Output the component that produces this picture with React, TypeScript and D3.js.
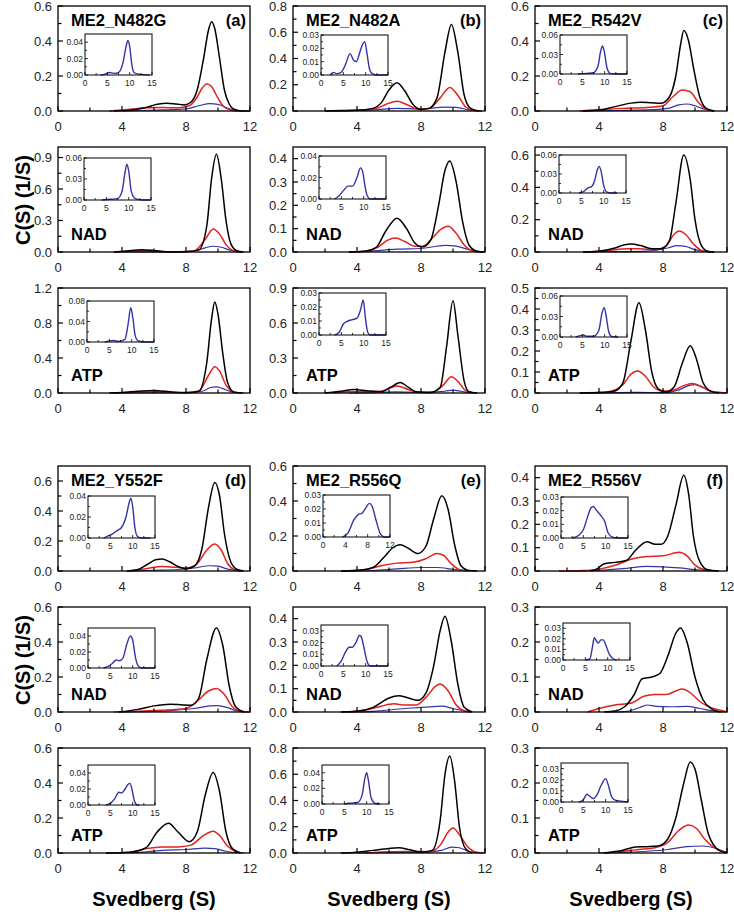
import React from "react";
import * as d3 from "d3";

type Pt = [number, number];

// ---------- DATA (Svedberg S, c(S)) ----------
// (a) ME2_N482G
const n482gApoBlack: Pt[] = [[3.5,0],[4.5,0.005],[5.5,0.02],[6.2,0.038],[6.8,0.045],[7.4,0.04],[7.9,0.035],[8.3,0.05],[8.7,0.12],[9.1,0.3],[9.4,0.46],[9.6,0.51],[9.8,0.47],[10.1,0.3],[10.4,0.12],[10.7,0.04],[11,0.01],[11.5,0],[12,0]];
const n482gApoRed: Pt[] = [[3.2,0],[3.8,0.005],[4.5,0.01],[5.5,0.018],[6.5,0.02],[7.5,0.018],[8.2,0.03],[8.7,0.08],[9.0,0.13],[9.3,0.155],[9.6,0.14],[9.9,0.09],[10.3,0.03],[10.8,0.005],[11.2,0]];
const n482gApoBlue: Pt[] = [[4,0],[5,0.003],[6.5,0.006],[8,0.012],[8.8,0.03],[9.5,0.042],[10,0.038],[10.5,0.02],[11,0.005],[11.5,0]];
const n482gApoInset: Pt[] = [[3.5,0],[4.5,0.001],[5.5,0.003],[6.5,0.002],[7.5,0.003],[8.5,0.015],[9.2,0.035],[9.6,0.042],[10,0.035],[10.5,0.012],[11,0.003],[12,0.001],[14.5,0]];
const n482gNadBlack: Pt[] = [[3.5,0],[4.3,0.01],[5.2,0.022],[6,0.015],[6.8,0.003],[8,0.002],[8.8,0.02],[9.3,0.25],[9.6,0.7],[9.9,0.93],[10.2,0.7],[10.5,0.3],[10.8,0.08],[11.2,0.01],[11.6,0]];
const n482gNadRed: Pt[] = [[3.5,0],[4.5,0.008],[5.2,0.012],[6,0.006],[7,0.001],[8.5,0.01],[9.2,0.12],[9.7,0.22],[10.1,0.17],[10.5,0.07],[11,0.01],[11.5,0]];
const n482gNadBlue: Pt[] = [[4,0],[5,0.002],[7,0.002],[8.5,0.01],[9.2,0.04],[9.7,0.055],[10.2,0.045],[10.8,0.015],[11.5,0]];
const n482gNadInset: Pt[] = [[4,0],[6,0.001],[7.5,0.002],[8.5,0.012],[9.2,0.04],[9.6,0.051],[10,0.042],[10.6,0.012],[11.5,0.002],[13,0],[15,0]];
const n482gAtpBlack: Pt[] = [[3.2,0],[4,0.005],[5,0.02],[6,0.03],[7,0.015],[8,0.002],[8.8,0.02],[9.3,0.35],[9.6,0.85],[9.8,1.04],[10,0.9],[10.3,0.45],[10.6,0.12],[11,0.01],[11.5,0]];
const n482gAtpRed: Pt[] = [[3.5,0],[5,0.01],[6.2,0.015],[7.5,0.005],[8.8,0.02],[9.4,0.2],[9.8,0.3],[10.1,0.25],[10.5,0.09],[11,0.01],[11.6,0]];
const n482gAtpBlue: Pt[] = [[4,0],[6,0.003],[8,0.003],[9,0.02],[9.5,0.06],[9.9,0.07],[10.3,0.05],[10.8,0.015],[11.5,0]];
const n482gAtpInset: Pt[] = [[4,0],[5,0.002],[6,0.003],[7,0.001],[8.5,0.005],[9.2,0.035],[9.8,0.067],[10.3,0.045],[10.8,0.012],[11.5,0.002],[13,0],[15,0]];

// (b) ME2_N482A
const n482aApoBlack: Pt[] = [[2,0],[3,0.003],[4,0.005],[5,0.02],[5.5,0.06],[6,0.16],[6.5,0.215],[7,0.15],[7.5,0.05],[8,0.012],[8.5,0.02],[9,0.1],[9.5,0.45],[9.9,0.66],[10.3,0.45],[10.7,0.12],[11.1,0.02],[11.6,0]];
const n482aApoRed: Pt[] = [[2.5,0],[4,0.005],[5.2,0.02],[5.8,0.05],[6.5,0.075],[7.1,0.05],[7.8,0.015],[8.5,0.02],[9.2,0.1],[9.8,0.18],[10.3,0.12],[10.8,0.03],[11.3,0.003],[11.8,0]];
const n482aApoBlue: Pt[] = [[2,0],[3,0.003],[5,0.008],[6.5,0.02],[8,0.015],[9.5,0.03],[10.2,0.028],[11,0.008],[11.8,0]];
const n482aApoInset: Pt[] = [[2,0],[2.8,0.002],[3.5,0.001],[4.5,0.002],[5.5,0.008],[6.5,0.016],[7.3,0.011],[7.9,0.01],[8.6,0.016],[9.3,0.023],[9.8,0.025],[10.3,0.016],[10.9,0.004],[11.5,0.001],[12.5,0],[15,0]];
const n482aNadBlack: Pt[] = [[3.5,0],[4.5,0.003],[5.2,0.02],[5.8,0.09],[6.5,0.145],[7.1,0.1],[7.6,0.04],[8.1,0.022],[8.6,0.05],[9.1,0.2],[9.5,0.35],[9.8,0.39],[10.2,0.3],[10.6,0.13],[11,0.03],[11.5,0.003],[12,0]];
const n482aNadRed: Pt[] = [[3.5,0],[4.5,0.003],[5.3,0.02],[5.9,0.05],[6.4,0.06],[7,0.045],[7.6,0.025],[8.1,0.025],[8.7,0.06],[9.3,0.1],[9.7,0.11],[10.2,0.08],[10.7,0.03],[11.2,0.005],[11.8,0]];
const n482aNadBlue: Pt[] = [[3.5,0],[5,0.005],[6.5,0.012],[8,0.015],[9.5,0.028],[10.2,0.025],[11,0.01],[11.8,0]];
const n482aNadInset: Pt[] = [[3.5,0],[4.5,0.003],[5.5,0.008],[6.5,0.012],[7.5,0.012],[8.5,0.02],[9.3,0.029],[9.8,0.025],[10.3,0.012],[10.8,0.003],[11.5,0],[15,0]];
const n482aAtpBlack: Pt[] = [[2,0],[3,0.015],[3.8,0.03],[4.6,0.02],[5.5,0.01],[6.1,0.05],[6.7,0.09],[7.2,0.05],[7.7,0.01],[8.5,0.003],[9.2,0.05],[9.6,0.4],[10,0.79],[10.3,0.5],[10.7,0.1],[11,0.01],[11.5,0]];
const n482aAtpRed: Pt[] = [[2.5,0],[3.5,0.01],[4.5,0.01],[5.5,0.015],[6.5,0.06],[7.2,0.03],[7.8,0.005],[8.8,0.01],[9.4,0.07],[9.9,0.14],[10.3,0.1],[10.8,0.02],[11.3,0]];
const n482aAtpBlue: Pt[] = [[3.5,0],[5,0.003],[6.5,0.01],[8,0.005],[9.5,0.015],[10,0.025],[10.5,0.015],[11,0.003],[11.5,0]];
const n482aAtpInset: Pt[] = [[3.5,0],[4.5,0.002],[5.5,0.008],[6.5,0.01],[7.5,0.011],[8.5,0.012],[9.3,0.018],[9.9,0.025],[10.4,0.012],[10.9,0.002],[11.5,0],[15,0]];

// (c) ME2_R542V
const r542vApoBlack: Pt[] = [[3,0],[4,0.005],[5,0.025],[6,0.045],[6.6,0.05],[7.3,0.047],[7.9,0.045],[8.4,0.08],[8.8,0.2],[9.1,0.38],[9.3,0.46],[9.6,0.4],[9.9,0.25],[10.3,0.08],[10.7,0.015],[11.2,0]];
const r542vApoRed: Pt[] = [[2.8,0],[4,0.008],[5.5,0.015],[7,0.02],[8,0.03],[8.6,0.08],[9.2,0.12],[9.7,0.11],[10.2,0.05],[10.7,0.01],[11.2,0]];
const r542vApoBlue: Pt[] = [[3,0],[5,0.003],[7,0.006],[8.3,0.015],[9,0.035],[9.5,0.04],[10,0.03],[10.6,0.01],[11.2,0]];
const r542vApoInset: Pt[] = [[4,0],[6,0.001],[7.5,0.002],[8.5,0.012],[9.1,0.035],[9.5,0.043],[9.9,0.035],[10.5,0.01],[11.2,0.001],[12.5,0],[15,0]];
const r542vNadBlack: Pt[] = [[3,0],[4,0.005],[5,0.025],[5.6,0.045],[6,0.05],[6.6,0.04],[7.3,0.02],[7.9,0.02],[8.4,0.07],[8.8,0.3],[9.3,0.6],[9.7,0.45],[10,0.2],[10.4,0.04],[10.8,0.005],[11.2,0]];
const r542vNadRed: Pt[] = [[3,0],[4.5,0.008],[5.8,0.02],[6.5,0.02],[7.5,0.015],[8.2,0.04],[8.7,0.11],[9,0.13],[9.4,0.11],[9.9,0.05],[10.4,0.01],[11,0]];
const r542vNadBlue: Pt[] = [[3.5,0],[5,0.002],[7,0.006],[8.3,0.025],[8.9,0.04],[9.4,0.035],[10,0.015],[10.6,0.003],[11.2,0]];
const r542vNadInset: Pt[] = [[4.5,0],[5.5,0.002],[6.5,0.008],[7.3,0.01],[8,0.02],[8.6,0.037],[9,0.042],[9.4,0.035],[10,0.012],[10.6,0.002],[11.5,0],[13,0]];
const r542vAtpBlack: Pt[] = [[2.8,0],[4,0.002],[5,0.01],[5.5,0.05],[6,0.25],[6.5,0.43],[6.9,0.3],[7.3,0.1],[7.7,0.02],[8.2,0.005],[8.7,0.03],[9.2,0.14],[9.7,0.225],[10.1,0.16],[10.5,0.05],[11,0.008],[11.5,0]];
const r542vAtpRed: Pt[] = [[2.8,0],[4.5,0.005],[5.5,0.04],[6,0.09],[6.4,0.105],[6.9,0.08],[7.4,0.03],[8,0.008],[8.7,0.015],[9.3,0.035],[9.8,0.045],[10.3,0.035],[10.9,0.01],[11.5,0.002],[12,0]];
const r542vAtpBlue: Pt[] = [[3.5,0],[5,0.002],[6.3,0.003],[8,0.002],[9,0.015],[9.6,0.035],[10,0.04],[10.5,0.025],[11.2,0.005],[12,0]];
const r542vAtpInset: Pt[] = [[3.5,0],[4.5,0.002],[5.2,0.003],[6,0.001],[7.5,0.001],[8.7,0.01],[9.4,0.035],[9.9,0.043],[10.3,0.032],[10.9,0.008],[11.5,0.001],[12.5,0],[13,0]];

// (d) ME2_Y552F
const y552fApoBlack: Pt[] = [[4.3,0],[5,0.01],[5.6,0.045],[6.1,0.075],[6.5,0.08],[7,0.06],[7.5,0.03],[8,0.015],[8.5,0.03],[9,0.15],[9.4,0.42],[9.8,0.59],[10.1,0.5],[10.4,0.25],[10.8,0.06],[11.2,0.01],[11.6,0]];
const y552fApoRed: Pt[] = [[4.5,0],[5.5,0.015],[6.5,0.03],[7.3,0.025],[8,0.02],[8.7,0.05],[9.3,0.14],[9.8,0.18],[10.2,0.14],[10.6,0.05],[11,0.01],[11.5,0]];
const y552fApoBlue: Pt[] = [[4.5,0],[6,0.005],[7.5,0.01],[8.5,0.02],[9.5,0.035],[10,0.032],[10.6,0.012],[11.2,0]];
const y552fApoInset: Pt[] = [[3.5,0],[4.5,0.002],[5.5,0.004],[6.5,0.007],[7.5,0.01],[8.5,0.02],[9.3,0.035],[9.6,0.038],[10,0.03],[10.5,0.01],[11,0.002],[12,0],[14,0]];
const y552fNadBlack: Pt[] = [[3.8,0],[5,0.015],[6,0.035],[7,0.045],[7.8,0.04],[8.3,0.038],[8.8,0.08],[9.3,0.3],[9.9,0.48],[10.3,0.38],[10.7,0.15],[11.1,0.03],[11.6,0]];
const y552fNadRed: Pt[] = [[4,0],[5,0.005],[6.5,0.01],[8,0.02],[8.8,0.07],[9.4,0.12],[9.9,0.135],[10.4,0.1],[10.9,0.03],[11.5,0.002],[12,0]];
const y552fNadBlue: Pt[] = [[3.5,0],[5,0.002],[7,0.008],[8.5,0.02],[9.5,0.035],[10,0.037],[10.6,0.025],[11.2,0.006],[12,0]];
const y552fNadInset: Pt[] = [[3.5,0],[4.5,0.002],[5.5,0.006],[6.3,0.01],[7,0.009],[7.8,0.012],[8.7,0.03],[9.5,0.04],[10,0.035],[10.6,0.014],[11.2,0.003],[12,0],[15,0]];
const y552fAtpBlack: Pt[] = [[3,0],[4.5,0.005],[5.5,0.03],[6.2,0.12],[6.9,0.17],[7.5,0.12],[8.2,0.065],[8.7,0.12],[9.2,0.33],[9.7,0.46],[10.1,0.35],[10.5,0.12],[10.9,0.025],[11.4,0]];
const y552fAtpRed: Pt[] = [[3,0],[4.5,0.005],[5.5,0.025],[6.5,0.035],[7.5,0.035],[8.3,0.045],[9.1,0.1],[9.7,0.125],[10.1,0.1],[10.6,0.04],[11.1,0.008],[11.6,0]];
const y552fAtpBlue: Pt[] = [[3.5,0],[5,0.003],[6.5,0.015],[8,0.02],[9.2,0.028],[9.8,0.025],[10.5,0.01],[11.2,0]];
const y552fAtpInset: Pt[] = [[4,0],[5,0.002],[6,0.008],[6.9,0.016],[7.5,0.015],[8.3,0.02],[9,0.026],[9.4,0.027],[9.9,0.018],[10.4,0.005],[11,0],[11.5,0]];

// (e) ME2_R556Q
const r556qApoBlack: Pt[] = [[3,0],[4,0.003],[5,0.02],[5.7,0.08],[6.2,0.13],[6.7,0.15],[7.2,0.13],[7.8,0.1],[8.3,0.14],[8.8,0.3],[9.3,0.43],[9.7,0.35],[10.1,0.15],[10.5,0.03],[11,0.003],[11.5,0]];
const r556qApoRed: Pt[] = [[3,0],[4.5,0.008],[5.5,0.03],[6.5,0.045],[7.5,0.05],[8.3,0.07],[9,0.1],[9.4,0.09],[9.9,0.04],[10.4,0.008],[11,0]];
const r556qApoBlue: Pt[] = [[3.5,0],[5,0.003],[6.5,0.012],[8,0.02],[9,0.02],[10,0.01],[11,0]];
const r556qApoInset: Pt[] = [[3.5,0],[4.5,0.003],[5.5,0.012],[6.3,0.016],[7,0.017],[7.7,0.021],[8.3,0.024],[8.8,0.022],[9.5,0.012],[10.2,0.003],[11,0],[12,0]];
const r556qNadBlack: Pt[] = [[3,0],[4,0.003],[5,0.02],[6,0.06],[6.6,0.07],[7.2,0.06],[7.8,0.05],[8.3,0.08],[8.8,0.2],[9.2,0.35],[9.5,0.41],[9.9,0.3],[10.3,0.12],[10.7,0.02],[11.2,0]];
const r556qNadRed: Pt[] = [[3,0],[4.5,0.008],[5.5,0.025],[6.3,0.035],[7,0.03],[7.7,0.03],[8.4,0.07],[8.9,0.11],[9.2,0.12],[9.7,0.09],[10.2,0.03],[10.7,0.005],[11.2,0]];
const r556qNadBlue: Pt[] = [[3.5,0],[5,0.003],[7,0.015],[8.5,0.022],[9.3,0.025],[10,0.015],[11,0]];
const r556qNadInset: Pt[] = [[3.5,0],[4.5,0.004],[5.5,0.012],[6.3,0.016],[7,0.016],[7.8,0.02],[8.6,0.026],[9,0.025],[9.6,0.016],[10.3,0.004],[11,0],[15,0]];
const r556qAtpBlack: Pt[] = [[3,0],[4,0.005],[5,0.02],[6,0.035],[6.6,0.04],[7.3,0.025],[8,0.008],[8.7,0.02],[9.2,0.25],[9.5,0.6],[9.8,0.74],[10.1,0.55],[10.4,0.2],[10.8,0.03],[11.2,0]];
const r556qAtpRed: Pt[] = [[4.5,0],[5.5,0.008],[7,0.012],[8.5,0.01],[9.2,0.06],[9.7,0.16],[10,0.19],[10.4,0.14],[10.9,0.05],[11.5,0.005],[12,0]];
const r556qAtpBlue: Pt[] = [[4,0],[6,0.003],[8,0.005],[9.3,0.02],[9.9,0.045],[10.4,0.04],[11,0.01],[11.6,0]];
const r556qAtpInset: Pt[] = [[5,0],[6,0.001],[8,0.002],[9,0.012],[9.6,0.033],[10,0.04],[10.4,0.03],[11,0.008],[11.8,0.001],[12.5,0],[13,0]];

// (f) ME2_R556V
const r556vApoBlack: Pt[] = [[3.5,0],[3.9,0.01],[4.3,0.03],[5,0.037],[5.7,0.045],[6.3,0.09],[7,0.125],[7.5,0.115],[7.9,0.115],[8.3,0.15],[8.8,0.28],[9.3,0.41],[9.6,0.33],[9.9,0.15],[10.3,0.04],[10.8,0.005],[11.5,0]];
const r556vApoRed: Pt[] = [[1.5,0],[3,0.002],[4,0.008],[5,0.025],[6,0.05],[7,0.062],[8,0.065],[9,0.08],[9.5,0.065],[10,0.025],[10.6,0.005],[11.3,0]];
const r556vApoBlue: Pt[] = [[2,0],[4,0.003],[5.5,0.01],[7,0.02],[8,0.018],[9,0.013],[10,0.006],[11,0]];
const r556vApoInset: Pt[] = [[2.5,0],[4,0.002],[5,0.006],[6,0.016],[6.7,0.022],[7.2,0.023],[8,0.02],[9,0.016],[9.8,0.012],[10.5,0.004],[11.3,0.001],[12.5,0],[15,0]];
const r556vNadBlack: Pt[] = [[4.3,0],[5,0.003],[5.6,0.015],[6.2,0.05],[6.7,0.095],[7.3,0.1],[7.8,0.11],[8.3,0.16],[8.8,0.225],[9.1,0.24],[9.5,0.2],[10,0.1],[10.5,0.035],[11,0.01],[11.6,0]];
const r556vNadRed: Pt[] = [[3.3,0],[4,0.01],[5,0.02],[6,0.025],[6.8,0.045],[7.5,0.05],[8.2,0.05],[8.8,0.06],[9.2,0.066],[9.7,0.055],[10.3,0.03],[11,0.012],[11.8,0.003],[12,0]];
const r556vNadBlue: Pt[] = [[4.5,0],[5.8,0.002],[6.5,0.012],[7,0.02],[7.6,0.016],[8.5,0.015],[9.5,0.016],[10.3,0.01],[11,0.004],[11.8,0]];
const r556vNadInset: Pt[] = [[5,0],[6,0.001],[6.5,0.01],[7,0.021],[7.5,0.018],[7.9,0.016],[8.5,0.019],[9,0.019],[9.6,0.014],[10.3,0.006],[11,0.002],[12,0]];
const r556vAtpBlack: Pt[] = [[4.3,0],[5.5,0.008],[6.3,0.017],[7,0.018],[7.7,0.02],[8.3,0.04],[8.8,0.1],[9.3,0.2],[9.7,0.26],[10,0.24],[10.4,0.15],[10.8,0.06],[11.3,0.015],[11.8,0.002],[12,0]];
const r556vAtpRed: Pt[] = [[4.5,0],[5.5,0.005],[6.5,0.01],[7.5,0.015],[8.3,0.03],[9,0.065],[9.6,0.08],[10.1,0.07],[10.6,0.04],[11.2,0.015],[11.8,0.003],[12,0]];
const r556vAtpBlue: Pt[] = [[4,0],[5.5,0.002],[7,0.005],[8.3,0.01],[9.5,0.018],[10.5,0.02],[11.2,0.015],[11.8,0.005],[12,0.003]];
const r556vAtpInset: Pt[] = [[4,0],[5,0.002],[5.8,0.007],[6.5,0.005],[7.2,0.003],[8,0.006],[9,0.015],[10,0.021],[10.6,0.015],[11.3,0.005],[12,0.002],[13,0.001],[15,0]];

// ---------- AXIS SETTINGS ----------
const titles = ["ME2_N482G", "ME2_N482A", "ME2_R542V", "ME2_Y552F", "ME2_R556Q", "ME2_R556V"];
const tags = ["(a)", "(b)", "(c)", "(d)", "(e)", "(f)"];
const ligandLabels = ["", "NAD", "ATP"];
const mainXTicks = [0, 4, 8, 12];
const insetXTicks15 = [0, 5, 10, 15];
const insetXTicks12 = [0, 4, 8, 12];

type PanelDef = {
  group: number; // 0..5 (a..f)
  cond: number; // 0 apo, 1 NAD, 2 ATP
  yMax: number; yStep: number;
  black: Pt[]; red: Pt[]; blue: Pt[];
  inset: Pt[]; iyMax: number; iyStep: number; ixMax: number;
};

const panels: PanelDef[] = [
  { group: 0, cond: 0, yMax: 0.6, yStep: 0.2, black: n482gApoBlack, red: n482gApoRed, blue: n482gApoBlue, inset: n482gApoInset, iyMax: 0.05, iyStep: 0.02, ixMax: 15 },
  { group: 0, cond: 1, yMax: 1.0, yStep: 0.3, black: n482gNadBlack, red: n482gNadRed, blue: n482gNadBlue, inset: n482gNadInset, iyMax: 0.06, iyStep: 0.03, ixMax: 15 },
  { group: 0, cond: 2, yMax: 1.2, yStep: 0.4, black: n482gAtpBlack, red: n482gAtpRed, blue: n482gAtpBlue, inset: n482gAtpInset, iyMax: 0.08, iyStep: 0.04, ixMax: 15 },
  { group: 1, cond: 0, yMax: 0.8, yStep: 0.2, black: n482aApoBlack, red: n482aApoRed, blue: n482aApoBlue, inset: n482aApoInset, iyMax: 0.03, iyStep: 0.01, ixMax: 15 },
  { group: 1, cond: 1, yMax: 0.45, yStep: 0.1, black: n482aNadBlack, red: n482aNadRed, blue: n482aNadBlue, inset: n482aNadInset, iyMax: 0.04, iyStep: 0.02, ixMax: 15 },
  { group: 1, cond: 2, yMax: 0.9, yStep: 0.3, black: n482aAtpBlack, red: n482aAtpRed, blue: n482aAtpBlue, inset: n482aAtpInset, iyMax: 0.03, iyStep: 0.01, ixMax: 15 },
  { group: 2, cond: 0, yMax: 0.6, yStep: 0.2, black: r542vApoBlack, red: r542vApoRed, blue: r542vApoBlue, inset: r542vApoInset, iyMax: 0.06, iyStep: 0.03, ixMax: 15 },
  { group: 2, cond: 1, yMax: 0.65, yStep: 0.2, black: r542vNadBlack, red: r542vNadRed, blue: r542vNadBlue, inset: r542vNadInset, iyMax: 0.06, iyStep: 0.03, ixMax: 15 },
  { group: 2, cond: 2, yMax: 0.5, yStep: 0.1, black: r542vAtpBlack, red: r542vAtpRed, blue: r542vAtpBlue, inset: r542vAtpInset, iyMax: 0.06, iyStep: 0.03, ixMax: 15 },
  { group: 3, cond: 0, yMax: 0.7, yStep: 0.2, black: y552fApoBlack, red: y552fApoRed, blue: y552fApoBlue, inset: y552fApoInset, iyMax: 0.04, iyStep: 0.02, ixMax: 15 },
  { group: 3, cond: 1, yMax: 0.6, yStep: 0.2, black: y552fNadBlack, red: y552fNadRed, blue: y552fNadBlue, inset: y552fNadInset, iyMax: 0.05, iyStep: 0.02, ixMax: 15 },
  { group: 3, cond: 2, yMax: 0.6, yStep: 0.2, black: y552fAtpBlack, red: y552fAtpRed, blue: y552fAtpBlue, inset: y552fAtpInset, iyMax: 0.05, iyStep: 0.02, ixMax: 15 },
  { group: 4, cond: 0, yMax: 0.6, yStep: 0.2, black: r556qApoBlack, red: r556qApoRed, blue: r556qApoBlue, inset: r556qApoInset, iyMax: 0.03, iyStep: 0.01, ixMax: 12 },
  { group: 4, cond: 1, yMax: 0.45, yStep: 0.1, black: r556qNadBlack, red: r556qNadRed, blue: r556qNadBlue, inset: r556qNadInset, iyMax: 0.035, iyStep: 0.01, ixMax: 15 },
  { group: 4, cond: 2, yMax: 0.8, yStep: 0.2, black: r556qAtpBlack, red: r556qAtpRed, blue: r556qAtpBlue, inset: r556qAtpInset, iyMax: 0.05, iyStep: 0.02, ixMax: 15 },
  { group: 5, cond: 0, yMax: 0.45, yStep: 0.1, black: r556vApoBlack, red: r556vApoRed, blue: r556vApoBlue, inset: r556vApoInset, iyMax: 0.03, iyStep: 0.01, ixMax: 15 },
  { group: 5, cond: 1, yMax: 0.3, yStep: 0.1, black: r556vNadBlack, red: r556vNadRed, blue: r556vNadBlue, inset: r556vNadInset, iyMax: 0.035, iyStep: 0.01, ixMax: 15 },
  { group: 5, cond: 2, yMax: 0.3, yStep: 0.1, black: r556vAtpBlack, red: r556vAtpRed, blue: r556vAtpBlue, inset: r556vAtpInset, iyMax: 0.035, iyStep: 0.01, ixMax: 15 },
];

// ---------- LAYOUT ----------
const W = 734, H = 915;
const COL_X = [58, 293, 535];
const PW = 192;
const ROW_Y = [6, 147, 288, 466, 607, 748];
const PH = 105;
// inset offsets relative to panel [dx, dy, h] in panel order
const insetBox: [number, number, number][] = [
  [27, 28, 41], [26, 11, 42], [29, 13, 41],
  [28, 29, 40], [26, 9, 43], [26, 5, 42],
  [25, 29, 39], [24, 8, 38], [25, 8, 41],
  [30, 30, 42], [30, 21, 40], [30, 17, 40],
  [30, 29, 42], [28, 18, 41], [29, 17, 39],
  [26, 31, 41], [28, 16, 37], [26, 15, 39],
];
const INSET_W = 67;
const FONT = "'Liberation Sans', Arial, Helvetica, sans-serif";
const RED = "#e3211d";
const BLUE = "#3434a8";

function Panel({ p, idx }: { p: PanelDef; idx: number }) {
  const col = p.group % 3;
  const row = Math.floor(p.group / 3) * 3 + p.cond;
  const x0 = COL_X[col], y0 = ROW_Y[row];
  const x = d3.scaleLinear().domain([0, 12]).range([0, PW]);
  const y = d3.scaleLinear().domain([0, p.yMax]).range([PH, 0]);
  const line = d3.line<Pt>().x(d => x(d[0])).y(d => y(d[1])).curve(d3.curveMonotoneX);
  const eps = 1e-9;
  const yMajor = d3.range(0, p.yMax + eps, p.yStep);
  const yMinor = d3.range(p.yStep / 2, p.yMax - eps, p.yStep);
  const xMinor = [2, 6, 10];
  const fmt = d3.format(".1f");

  const [idx_, idy, ih] = insetBox[idx];
  const ix = d3.scaleLinear().domain([0, p.ixMax]).range([0, INSET_W]);
  const iy = d3.scaleLinear().domain([0, p.iyMax]).range([ih, 0]);
  const iline = d3.line<Pt>().x(d => ix(d[0])).y(d => iy(d[1])).curve(d3.curveMonotoneX);
  const iyMajor = d3.range(0, p.iyMax + eps, p.iyStep);
  const iyMinor = d3.range(p.iyStep / 2, p.iyMax - eps, p.iyStep);
  const ixTicks = p.ixMax === 12 ? insetXTicks12 : insetXTicks15;
  const ixMinor = ixTicks.slice(0, -1).map((t, i) => (t + ixTicks[i + 1]) / 2);
  const ifmt = d3.format(".2f");

  return (
    <g transform={`translate(${x0},${y0})`}>
      {/* curves */}
      <path d={line(p.blue) || ""} fill="none" stroke={BLUE} strokeWidth={1.2} />
      <path d={line(p.red) || ""} fill="none" stroke={RED} strokeWidth={1.5} />
      <path d={line(p.black) || ""} fill="none" stroke="#000" strokeWidth={1.5} />
      {/* frame */}
      <rect x={0} y={0} width={PW} height={PH} fill="none" stroke="#000" strokeWidth={1.3} />
      {/* x ticks */}
      {mainXTicks.map(t => (
        <g key={"xt" + t}>
          <line x1={x(t)} x2={x(t)} y1={PH} y2={PH - 5} stroke="#000" strokeWidth={1.2} />
          <text x={x(t)} y={PH + 20} fontSize={13} textAnchor="middle" fill="#222" fontFamily={FONT}>{t}</text>
        </g>
      ))}
      {xMinor.map(t => (
        <line key={"xm" + t} x1={x(t)} x2={x(t)} y1={PH} y2={PH - 3.5} stroke="#000" strokeWidth={1.2} />
      ))}
      {/* y ticks */}
      {yMajor.map(t => (
        <g key={"yt" + t}>
          <line x1={0} x2={5} y1={y(t)} y2={y(t)} stroke="#000" strokeWidth={1.2} />
          <text x={-6} y={y(t) + 4.5} fontSize={13} textAnchor="end" fill="#222" fontFamily={FONT}>{fmt(t)}</text>
        </g>
      ))}
      {yMinor.map(t => (
        <line key={"ym" + t} x1={0} x2={3.5} y1={y(t)} y2={y(t)} stroke="#000" strokeWidth={1.2} />
      ))}
      {/* labels */}
      {p.cond === 0 ? (
        <>
          <text x={13} y={20} fontSize={16.5} fontWeight="bold" fontFamily={FONT}>{titles[p.group]}</text>
          <text x={PW - 4} y={20} fontSize={16.5} fontWeight="bold" textAnchor="end" fontFamily={FONT}>{tags[p.group]}</text>
        </>
      ) : (
        <text x={13} y={PH - 12} fontSize={16.5} fontWeight="bold" fontFamily={FONT}>{ligandLabels[p.cond]}</text>
      )}
      {/* inset */}
      <g transform={`translate(${idx_},${idy})`}>
        <path d={iline(p.inset) || ""} fill="none" stroke={BLUE} strokeWidth={1.4} />
        <rect x={0} y={0} width={INSET_W} height={ih} fill="none" stroke="#000" strokeWidth={1} />
        {ixTicks.map(t => (
          <g key={"ix" + t}>
            <line x1={ix(t)} x2={ix(t)} y1={ih} y2={ih - 3} stroke="#000" strokeWidth={0.8} />
            <text x={ix(t)} y={ih + 11} fontSize={8.5} textAnchor="middle" fill="#222" fontFamily={FONT}>{t}</text>
          </g>
        ))}
        {ixMinor.map(t => (
          <line key={"ixm" + t} x1={ix(t)} x2={ix(t)} y1={ih} y2={ih - 2} stroke="#000" strokeWidth={0.8} />
        ))}
        {iyMajor.map(t => (
          <g key={"iy" + t}>
            <line x1={0} x2={3} y1={iy(t)} y2={iy(t)} stroke="#000" strokeWidth={0.8} />
            <text x={-2} y={iy(t) + 3} fontSize={8.5} textAnchor="end" fill="#222" fontFamily={FONT}>{ifmt(t)}</text>
          </g>
        ))}
        {iyMinor.map(t => (
          <line key={"iym" + t} x1={0} x2={2} y1={iy(t)} y2={iy(t)} stroke="#000" strokeWidth={0.8} />
        ))}
      </g>
    </g>
  );
}

export default function App() {
  return (
    <svg width={W} height={H} viewBox={`0 0 ${W} ${H}`} style={{ display: "block", position: "absolute", left: 0, top: 0, background: "#fff" }}>
      <rect x={0} y={0} width={W} height={H} fill="#fff" />
      {panels.map((p, i) => <Panel key={i} p={p} idx={i} />)}
      {[200, 660].map((cy, i) => (
        <text key={"yl" + i} transform={`translate(30,${cy}) rotate(-90)`} fontSize={20} fontWeight="bold" textAnchor="middle" fontFamily={FONT}>C(S) (1/S)</text>
      ))}
      {COL_X.map((cx, i) => (
        <text key={"xl" + i} x={cx + PW / 2} y={906} fontSize={20} fontWeight="bold" textAnchor="middle" fontFamily={FONT}>Svedberg (S)</text>
      ))}
    </svg>
  );
}
